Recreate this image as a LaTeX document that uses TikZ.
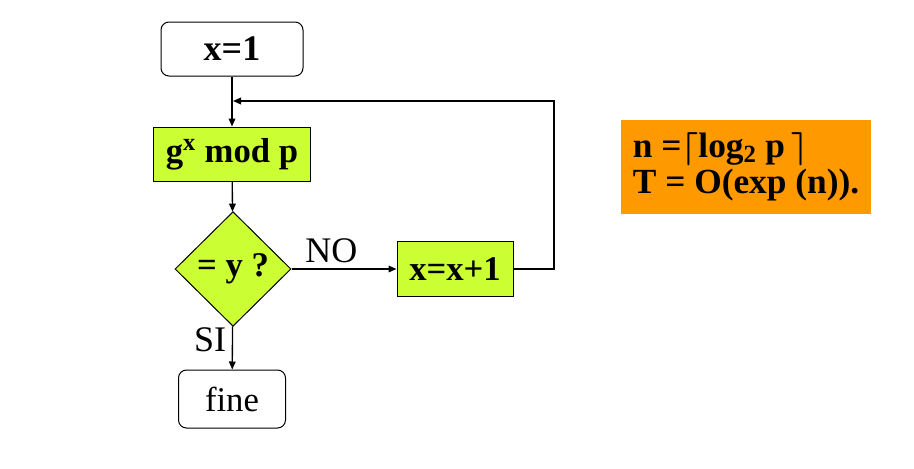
\documentclass[tikz,border=0pt]{standalone}
\usepackage{fontspec}
\setmainfont{Liberation Serif}
\usepackage{tikz}
\usetikzlibrary{arrows.meta,shapes.geometric}
\usepackage{xcolor}
\definecolor{limegreen}{HTML}{CCFF33}
\definecolor{orangebox}{HTML}{FF9900}

\begin{document}
\begin{tikzpicture}[x=0.75pt,y=-0.75pt,>={Triangle[length=6pt,width=5pt]},
  endbox/.style={draw,rounded corners=6pt,fill=white,inner sep=0pt,line width=0.75pt},
  opbox/.style={draw,fill=limegreen,inner sep=0pt,line width=0.75pt,font=\fontsize{26}{30}\selectfont\bfseries},
  flow/.style={->,line width=1pt}]
\useasboundingbox (0,0) rectangle (914,468);
\node[endbox,minimum width=106.5pt,minimum height=40.5pt,font=\fontsize{27}{30}\selectfont\bfseries] (start) at (232,49) {x=1};
\node[opbox,minimum width=117.75pt,minimum height=40.5pt] (pow) at (232,154) {g\textsuperscript{x} mod p};
\node[diamond,draw,fill=limegreen,inner sep=0pt,line width=0.75pt,minimum width=87pt,minimum height=86pt,font=\fontsize{26}{30}\selectfont\bfseries] (test) at (233,269) {= y ?};
\node[opbox,minimum width=87pt,minimum height=41.25pt] (inc) at (455,269) {x=x+1};
\node[endbox,minimum width=80.25pt,minimum height=43.5pt,font=\fontsize{26}{30}\selectfont] (stop) at (232,399) {fine};
\node[fill=orangebox,minimum width=187.5pt,minimum height=70.5pt,inner sep=0pt,align=left,font=\fontsize{26.5}{27}\selectfont\bfseries\boldmath] (cost) at (746,167) {n =$\lceil$log\textsubscript{2} p$\,\rceil$\\T = O(exp (n)).};
\coordinate (corner) at (554,101);
\coordinate (join) at (233,101);
\draw[flow] (start) -- (pow);
\draw[flow] (pow) -- (test);
\draw[flow] (test) -- (inc) node[pos=0.38,above=1pt,font=\fontsize{27}{30}\selectfont]{NO};
\draw[flow] (test) -- (stop) node[pos=0.32,left=1pt,font=\fontsize{27}{30}\selectfont]{SI};
\draw[flow] (inc) -| (corner) -- (join);
\end{tikzpicture}
\end{document}
